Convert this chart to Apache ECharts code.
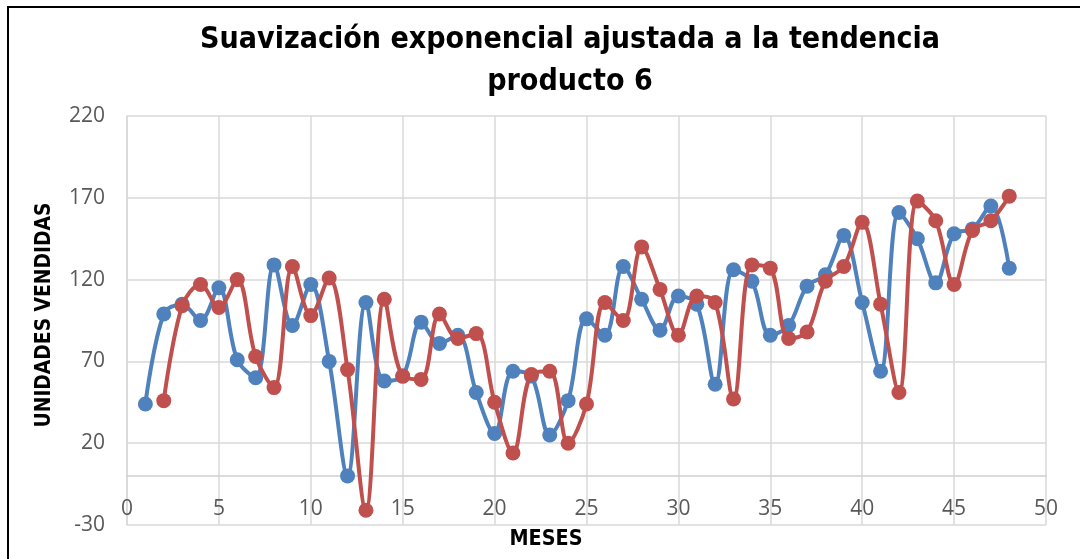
<!DOCTYPE html>
<html>
<head>
<meta charset="utf-8">
<script src="https://cdn.jsdelivr.net/npm/echarts@6/dist/echarts.min.js"></script>
<style>
  html, body { margin: 0; padding: 0; background: #fff; }
  #chart { width: 1080px; height: 559px; }
</style>
</head>
<body>
<div id="chart"></div>
<script>
// Demanda real por mes (producto 6)
const mesesReales = [1,2,3,4,5,6,7,8,9,10,11,12,13,14,15,16,17,18,19,20,21,22,23,24,
                     25,26,27,28,29,30,31,32,33,34,35,36,37,38,39,40,41,42,43,44,45,46,47,48];
const ventasReales = [44,99,105,95,115,71,60,129,92,117,70,0,106,58,61,94,81,86,51,26,64,61,25,46,
                      96,86,128,108,89,110,105,56,126,119,86,92,116,123,147,106,64,161,145,118,148,151,165,127];

// Pronóstico con suavización exponencial ajustada a la tendencia
const mesesPronostico = [2,3,4,5,6,7,8,9,10,11,12,13,14,15,16,17,18,19,20,21,22,23,24,
                         25,26,27,28,29,30,31,32,33,34,35,36,37,38,39,40,41,42,43,44,45,46,47,48];
const ventasPronostico = [46,104,117,103,120,73,54,128,98,121,65,-21,108,61,59,99,84,87,45,14,62,64,20,
                          44,106,95,140,114,86,110,106,47,129,127,84,88,119,128,155,105,51,168,156,117,150,156,171];

const tituloLineas = ['Suavización exponencial ajustada a la tendencia', 'producto 6'];
const tituloEjeX = 'MESES';
const tituloEjeY = 'UNIDADES VENDIDAS';

const AZUL = '#4F81BD';
const ROJO = '#C0504D';
const BOLD_FAMILY = '"Liberation Sans Narrow", "DejaVu Sans Condensed", "Open Sans", sans-serif';
const TICK_FAMILY = '"Open Sans", "Noto Sans", sans-serif';

// size a bold text so that it spans the wanted width
const measureCtx = document.createElement('canvas').getContext('2d');
function fitSize(text, targetWidth) {
  measureCtx.font = 'bold 100px ' + BOLD_FAMILY;
  return 100 * targetWidth / measureCtx.measureText(text).width;
}

const pairs = (xs, ys) => xs.map((x, i) => [x, ys[i]]);

const titleSize = fitSize(tituloLineas[0], 740);
const xNameSize = fitSize(tituloEjeX, 73);
const yNameSize = fitSize(tituloEjeY, 225);

const chart = echarts.init(document.getElementById('chart'), null, { renderer: 'canvas' });

chart.setOption({
  animation: false,
  backgroundColor: '#fff',
  grid: { left: 127, right: 34, top: 116, bottom: 34, containLabel: false, outerBoundsMode: 'none' },
  xAxis: {
    type: 'value',
    min: 0, max: 50, interval: 5,
    axisLine: { show: true, onZero: true, lineStyle: { color: '#D0D0D0', width: 1.5 } },
    axisTick: { show: false },
    // month labels sit just under the zero line, above the lower edge of the plot
    axisLabel: { color: '#595959', fontSize: 21, fontFamily: TICK_FAMILY, margin: -26 },
    splitLine: { show: true, lineStyle: { color: '#D9D9D9', width: 1.5 } }
  },
  yAxis: {
    type: 'value',
    min: -30, max: 220, interval: 50,
    axisLine: { show: true, lineStyle: { color: '#D9D9D9', width: 1.5 } },
    axisTick: { show: false },
    axisLabel: { color: '#595959', fontSize: 21, fontFamily: TICK_FAMILY, margin: 22 },
    splitLine: { show: true, lineStyle: { color: '#D9D9D9', width: 1.5 } }
  },
  series: [
    {
      name: 'Demanda',
      type: 'line',
      data: pairs(mesesReales, ventasReales),
      smooth: 0.35,
      symbol: 'circle',
      symbolSize: 15,
      lineStyle: { color: AZUL, width: 4 },
      itemStyle: { color: AZUL },
      z: 2
    },
    {
      name: 'Pronóstico',
      type: 'line',
      data: pairs(mesesPronostico, ventasPronostico),
      smooth: 0.35,
      symbol: 'circle',
      symbolSize: 15,
      lineStyle: { color: ROJO, width: 4 },
      itemStyle: { color: ROJO },
      z: 3
    }
  ],
  graphic: [
    {
      type: 'rect', silent: true, z: 100,
      shape: { x: 8, y: 7, width: 1200, height: 700 },
      style: { fill: 'none', stroke: '#000', lineWidth: 2 }
    },
    {
      type: 'text', x: 570, y: 40, z: 100,
      style: { text: tituloLineas[0], fill: '#000', font: 'bold ' + titleSize.toFixed(2) + 'px ' + BOLD_FAMILY,
               align: 'center', verticalAlign: 'middle' }
    },
    {
      type: 'text', x: 570, y: 82, z: 100,
      style: { text: tituloLineas[1], fill: '#000', font: 'bold ' + titleSize.toFixed(2) + 'px ' + BOLD_FAMILY,
               align: 'center', verticalAlign: 'middle' }
    },
    {
      type: 'text', x: 546, y: 539, z: 100,
      style: { text: tituloEjeX, fill: '#000', font: 'bold ' + xNameSize.toFixed(2) + 'px ' + BOLD_FAMILY,
               align: 'center', verticalAlign: 'middle' }
    },
    {
      type: 'text', x: 45, y: 315, rotation: Math.PI / 2, z: 100,
      style: { text: tituloEjeY, fill: '#000', font: 'bold ' + yNameSize.toFixed(2) + 'px ' + BOLD_FAMILY,
               align: 'center', verticalAlign: 'middle' }
    }
  ]
});
</script>
</body>
</html>
